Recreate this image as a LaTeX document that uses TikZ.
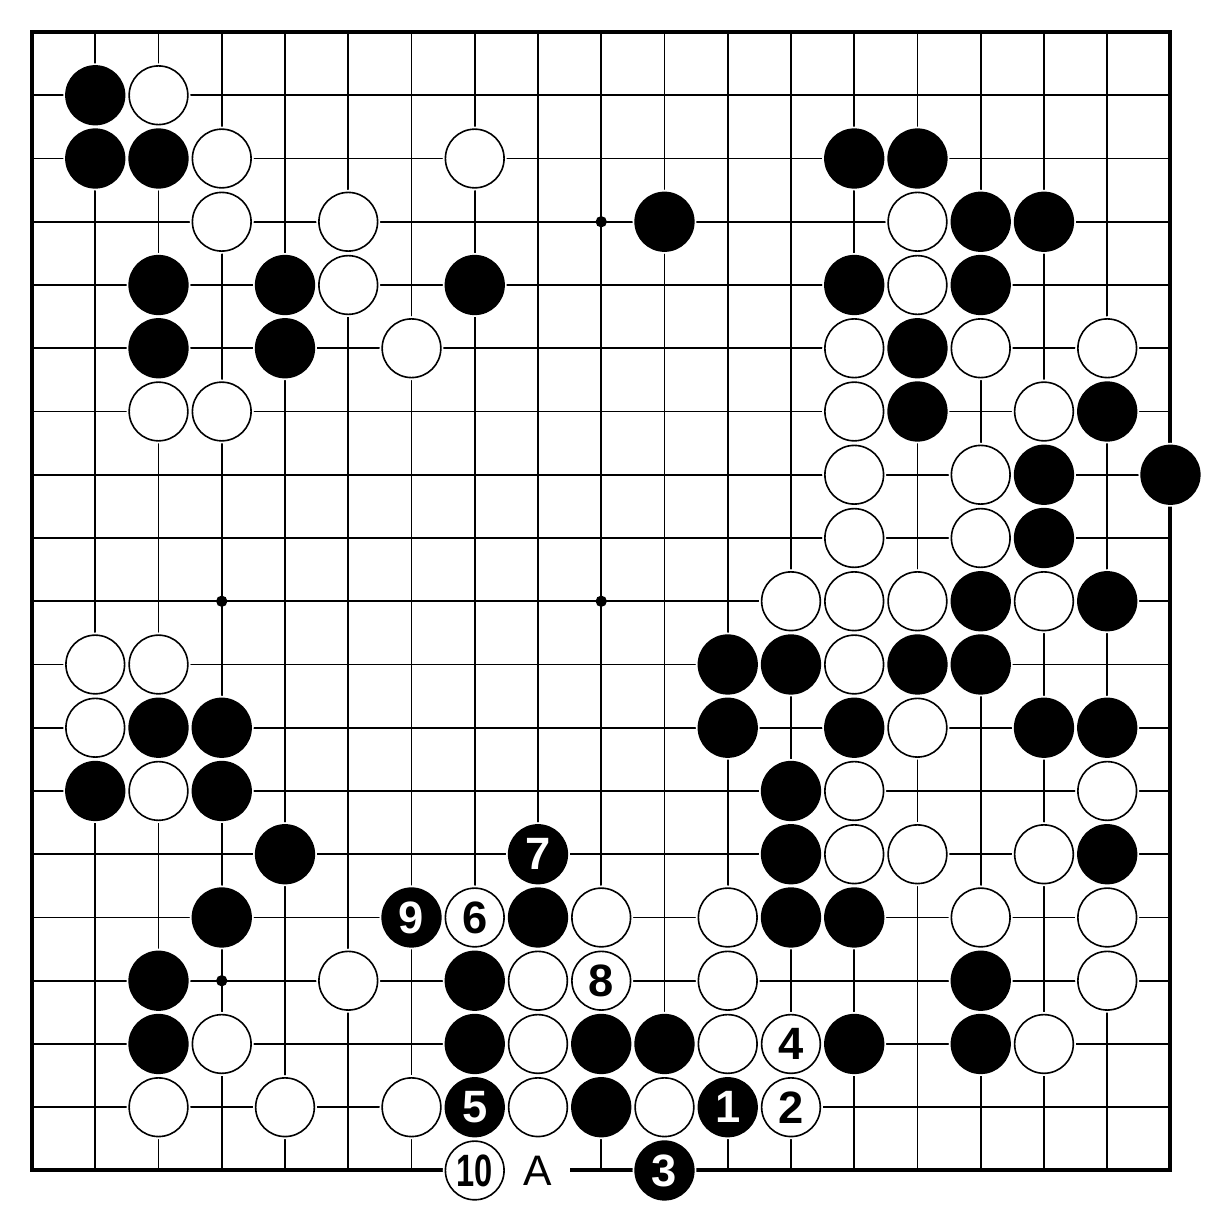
\documentclass[tikz,border=0pt]{standalone}
\usepackage{fontspec}
\newfontfamily\stonefont{Liberation Sans}

\begin{document}
\begin{tikzpicture}[x=47.44pt,y=-47.44pt,
  gridline/.style={line width=1.45pt},
  edgeline/.style={line width=3pt},
  stone/.style={circle,minimum size=44pt,inner sep=0pt,line width=1.2pt,draw=black,
    preaction={draw=white,line width=4pt},
    font=\stonefont\bfseries\fontsize{34}{34}\selectfont},
  bstone/.style={stone,fill=black,text=white},
  wstone/.style={stone,fill=white,text=black},
  hoshi/.style={circle,fill=black,inner sep=0pt,minimum size=8.5pt}]
\useasboundingbox (-0.506,-0.506) rectangle (18.546,18.546);

% board lines
\foreach \k in {1,...,17} {
  \draw[gridline] (\k,0) -- (\k,18);
  \draw[gridline] (0,\k) -- (18,\k);
}
\draw[edgeline] (0,0) rectangle (18,18);

% star points
\foreach \i/\j in {9/3,3/9,9/9,3/15}
  \node[hoshi] (h-\i-\j) at (\i,\j) {};

% black stones
\foreach \i/\j in {1/1,1/2,2/2,13/2,14/2,10/3,15/3,16/3,2/4,4/4,7/4,13/4,15/4,
  2/5,4/5,14/5,14/6,17/6,16/7,18/7,16/8,15/9,17/9,11/10,12/10,14/10,15/10,
  2/11,3/11,11/11,13/11,16/11,17/11,1/12,3/12,12/12,4/13,12/13,17/13,
  3/14,8/14,12/14,13/14,2/15,7/15,15/15,2/16,7/16,9/16,10/16,13/16,15/16,9/17}
  \node[bstone] (b-\i-\j) at (\i,\j) {};

% white stones
\foreach \i/\j in {2/1,3/2,7/2,3/3,5/3,14/3,5/4,14/4,6/5,13/5,15/5,17/5,
  2/6,3/6,13/6,16/6,13/7,15/7,13/8,15/8,12/9,13/9,14/9,16/9,1/10,2/10,13/10,
  1/11,14/11,2/12,13/12,17/12,13/13,14/13,16/13,9/14,11/14,15/14,17/14,
  5/15,8/15,11/15,17/15,3/16,8/16,11/16,16/16,2/17,4/17,6/17,8/17,10/17}
  \node[wstone] (w-\i-\j) at (\i,\j) {};

% numbered moves
\node[bstone] (m1) at (11,17) {1};
\node[wstone] (m2) at (12,17) {2};
\node[bstone] (m3) at (10,18) {3};
\node[wstone] (m4) at (12,16) {4};
\node[bstone] (m5) at (7,17) {5};
\node[wstone] (m6) at (7,14) {6};
\node[bstone] (m7) at (8,13) {7};
\node[wstone] (m8) at (9,15) {8};
\node[bstone] (m9) at (6,14) {9};
\node[wstone] (m10) at (7,18) {\scalebox{0.72}[1]{10}};

% point A
\node[circle,fill=white,inner sep=0pt,minimum size=48pt,
  font=\stonefont\fontsize{32}{32}\selectfont] (pA) at (8,18) {A};

\end{tikzpicture}
\end{document}
